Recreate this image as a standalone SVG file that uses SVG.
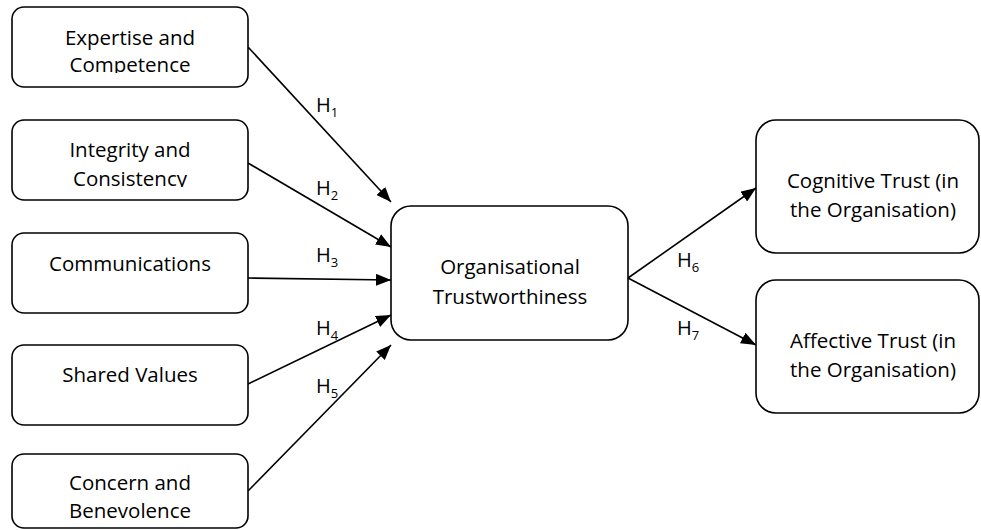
<svg xmlns="http://www.w3.org/2000/svg" width="981" height="530" viewBox="0 0 981 530">
<style>
.box{fill:#fff;stroke:#000;stroke-width:1.6}
.t{font-family:"Open Sans","Liberation Sans",sans-serif;font-size:20.5px;fill:#000;text-anchor:middle}
.h{font-family:"Open Sans","Liberation Sans",sans-serif;font-size:20px;fill:#000}
.sub{font-size:13px}
.c{stroke:#000;stroke-width:1.6;fill:none;marker-end:url(#ah)}
</style>
<defs>
<marker id="ah" markerUnits="userSpaceOnUse" markerWidth="16" markerHeight="12" refX="15" refY="6" orient="auto">
<path d="M0,0 L15,6 L0,12 z" fill="#000"/>
</marker>
<clipPath id="clip1"><rect x="12" y="7" width="236" height="66"/></clipPath>
<clipPath id="clip2"><rect x="12" y="120" width="236" height="67"/></clipPath>
</defs>
<g id="connectors">
<line class="c" x1="248" y1="47" x2="391" y2="202"/>
<line class="c" x1="248" y1="163" x2="391" y2="247"/>
<line class="c" x1="248" y1="278" x2="391" y2="280"/>
<line class="c" x1="248" y1="384" x2="391" y2="315"/>
<line class="c" x1="248" y1="491" x2="391" y2="345"/>
<line class="c" x1="628" y1="278" x2="756" y2="188"/>
<line class="c" x1="628" y1="278" x2="756" y2="345"/>
<text class="h" x="316" y="112">H<tspan class="sub" dy="5">1</tspan></text>
<text class="h" x="316" y="195">H<tspan class="sub" dy="5">2</tspan></text>
<text class="h" x="316" y="262">H<tspan class="sub" dy="5">3</tspan></text>
<text class="h" x="316" y="335">H<tspan class="sub" dy="5">4</tspan></text>
<text class="h" x="316" y="393">H<tspan class="sub" dy="5">5</tspan></text>
<text class="h" x="677" y="267">H<tspan class="sub" dy="5">6</tspan></text>
<text class="h" x="677" y="335">H<tspan class="sub" dy="5">7</tspan></text>
</g>
<g id="n1">
<rect class="box" x="12" y="7" width="236" height="80" rx="12"/>
<g clip-path="url(#clip1)">
<text class="t" x="130" y="45">Expertise and</text>
<text class="t" x="130" y="72">Competence</text>
</g>
</g>
<g id="n2">
<rect class="box" x="12" y="120" width="236" height="80" rx="12"/>
<g clip-path="url(#clip2)">
<text class="t" x="130" y="157">Integrity and</text>
<text class="t" x="130" y="186">Consistency</text>
</g>
</g>
<g id="n3">
<rect class="box" x="12" y="233" width="236" height="80" rx="12"/>
<text class="t" x="130" y="271">Communications</text>
</g>
<g id="n4">
<rect class="box" x="12" y="345" width="236" height="80" rx="12"/>
<text class="t" x="130" y="382">Shared Values</text>
</g>
<g id="n5">
<rect class="box" x="12" y="454" width="236" height="74" rx="12"/>
<text class="t" x="130" y="490">Concern and</text>
<text class="t" x="130" y="518">Benevolence</text>
</g>
<g id="center">
<rect class="box" x="391" y="206" width="237" height="134" rx="20"/>
<text class="t" x="510" y="274">Organisational</text>
<text class="t" x="510" y="304">Trustworthiness</text>
</g>
<g id="cognitive">
<rect class="box" x="756" y="120" width="223" height="133" rx="20"/>
<text class="t" x="873" y="188">Cognitive Trust (in</text>
<text class="t" x="873" y="217">the Organisation)</text>
</g>
<g id="affective">
<rect class="box" x="756" y="280" width="223" height="133" rx="20"/>
<text class="t" x="873" y="348">Affective Trust (in</text>
<text class="t" x="873" y="377">the Organisation)</text>
</g>
</svg>
